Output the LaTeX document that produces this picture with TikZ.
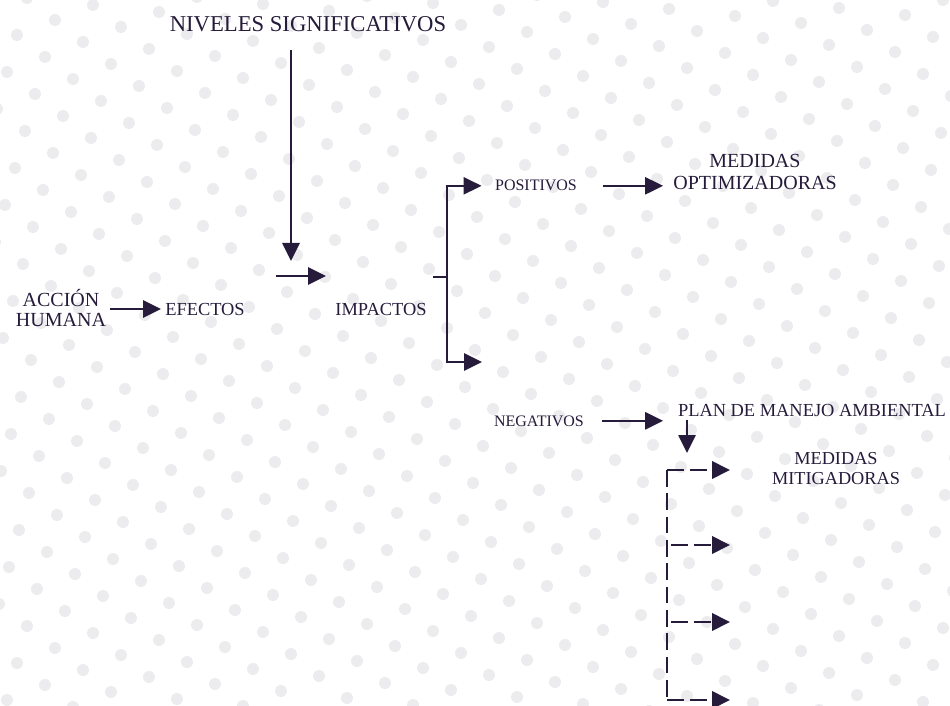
\documentclass[tikz,border=0pt]{standalone}
\usepackage{fontspec}
\setmainfont{Liberation Serif}
\usepackage{xcolor}
\usepackage{tikz}
\usetikzlibrary{arrows.meta}
\definecolor{tinta}{RGB}{38,27,58}
\definecolor{punto}{RGB}{236,236,239}
\tikzstyle{linea} = [draw=tinta, line width=1.2pt]
\tikzstyle{flecha} = [linea, -{Triangle[length=13.5pt,width=13pt]}]
\tikzstyle{lineadash} = [draw=tinta, line width=2pt, dash pattern=on 12.5pt off 5pt]
\tikzstyle{flechad} = [lineadash, -{Triangle[length=13.5pt,width=13pt]}]
\tikzstyle{texto} = [text=tinta, inner sep=3pt, align=center]

\begin{document}
\begin{tikzpicture}[x=0.75pt,y=-0.75pt]
\useasboundingbox (0,0) rectangle (950,706);
% fondo de puntos
\begin{scope}
	\clip (0,0) rectangle (950,706);
	\foreach \i in {-18,...,17}
	{
		\foreach \j in {-2,...,34}
		{
			\fill[punto] (55+38*\i+28*\j, 20-15*\i+22*\j) circle (4.5pt);
		}
	}
\end{scope}

\node[texto, anchor=base, font=\fontsize{17}{20}\selectfont] (niveles) at (308,32) {NIVELES SIGNIFICATIVOS};
\node[texto, font=\fontsize{15}{15}\selectfont] (accion) at (61,308) {ACCIÓN\\HUMANA};
\node[texto, anchor=base, font=\fontsize{13.8}{16}\selectfont] (efectos) at (205,315) {EFECTOS};
\node[texto, anchor=base, font=\fontsize{13.8}{16}\selectfont] (impactos) at (381,315) {IMPACTOS};
\node[texto, anchor=base, font=\fontsize{12}{14}\selectfont] (positivos) at (536,191) {POSITIVOS};
\node[texto, font=\fontsize{15}{17}\selectfont] (optim) at (755,172) {MEDIDAS\\OPTIMIZADORAS};
\node[texto, anchor=base, font=\fontsize{12}{14}\selectfont] (negativos) at (539,426) {NEGATIVOS};
\node[texto, anchor=base, font=\fontsize{13.8}{16}\selectfont] (plan) at (812,416) {PLAN DE MANEJO AMBIENTAL};
\node[texto, font=\fontsize{13.7}{15}\selectfont] (mitig) at (836,469) {MEDIDAS\\MITIGADORAS};

\coordinate (nivtip) at (291,261);
\coordinate (efout) at (276,276);
\coordinate (impin) at (326,276);
\coordinate (impout) at (433,277);
\coordinate (brk) at (447,277);
\coordinate (negtip) at (482,362);
\coordinate (plantip) at (687,453);

\draw[flecha] (accion.east |- efectos.center) -- (efectos.west);
\draw[flecha, shorten <=10pt] (niveles.south -| nivtip) -- (nivtip);
\draw[flecha] (efout) -- (impin);
\draw[linea] (impout) -- (brk);
\draw[flecha, shorten >=7pt] (brk) |- (positivos);
\draw[flecha] (brk) |- (negtip);
\draw[flecha, shorten <=16pt, shorten >=4.5pt] (positivos) -- (positivos -| optim.west);
\draw[flecha, shorten <=10.5pt, shorten >=8pt] (negativos) -- (negativos -| plan.west);
\draw[flecha] (plan.south -| plantip) -- (plantip);

% ramas punteadas
\coordinate (m1) at (667,470);
\coordinate (m2) at (671,545);
\coordinate (m3) at (671,622);
\coordinate (m4) at (667,700);
\foreach \k/\y in {1/470,2/545,3/622,4/700}
{
	\coordinate (t\k) at (730,\y);
}
\draw[lineadash] (m1) -- (m4);
\foreach \k in {1,...,4}
{
	\draw[flechad] (m\k) -- (t\k);
}
\end{tikzpicture}
\end{document}
